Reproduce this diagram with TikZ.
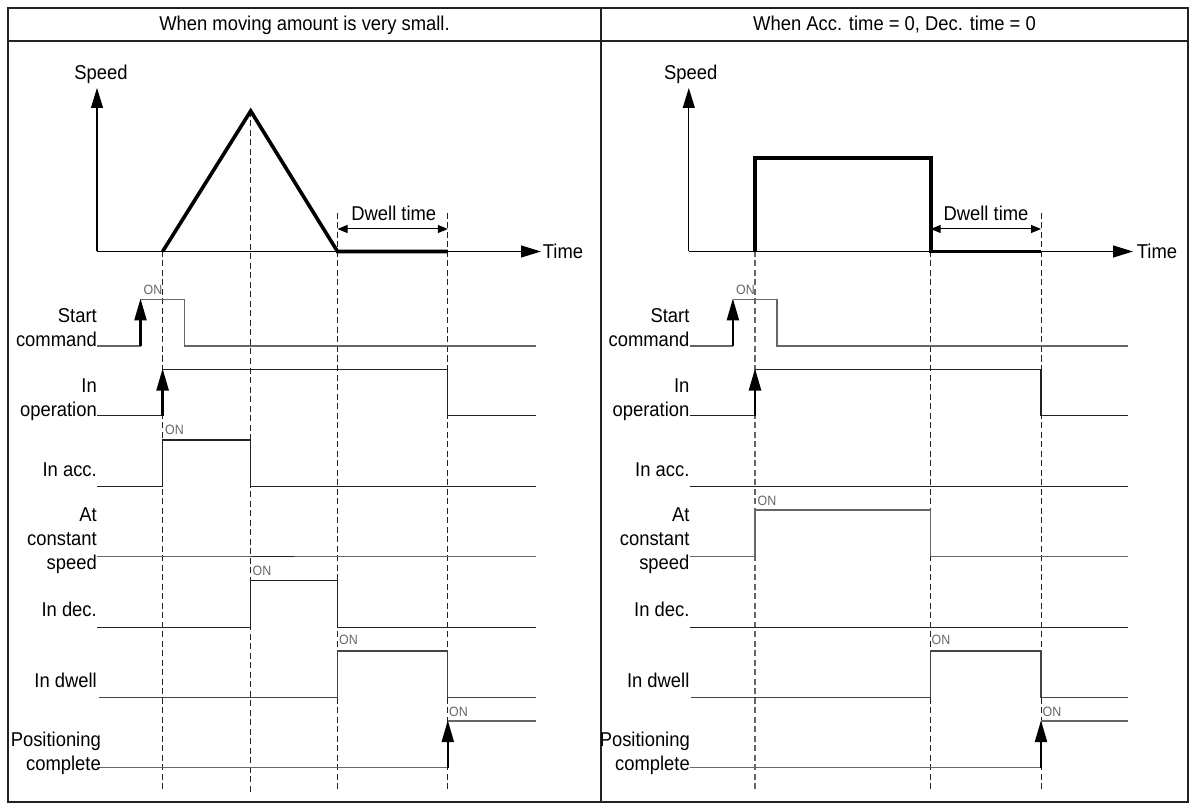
\documentclass[tikz,border=0pt]{standalone}
\usepackage{fontspec}
\setmainfont{Liberation Sans}[FakeStretch=0.92]
\usetikzlibrary{arrows.meta}
\definecolor{sgray}{HTML}{666666}
\definecolor{dk}{HTML}{222222}
\begin{document}
\begin{tikzpicture}[x=1pt,y=-1pt,
  lbl/.style={font=\fontsize{20}{24}\selectfont, inner sep=0pt, align=right, text depth=0pt, anchor=south east},
  ttl/.style={font=\fontsize{20}{24}\selectfont, inner sep=0pt},
  onlbl/.style={font=\fontsize{13.5}{15}\selectfont, text=black!60, inner sep=0pt},
  frame/.style={line width=1.2pt, draw=dk},
  sigb/.style={line width=1.2pt, draw=dk},
  sigg/.style={line width=1.2pt, draw=sgray},
  prof/.style={line width=3.6pt, draw=black},
  axis/.style={line width=1.1pt, draw=black, -{Triangle[length=20pt,width=12pt]}},
  uparr/.style={line width=2.4pt, draw=black, -{Triangle[length=22pt,width=12pt]}},
  dwarr/.style={line width=1pt, {Triangle[length=10pt,width=8pt]}-{Triangle[length=10pt,width=8pt]}},
  dsh/.style={line width=1pt, draw=dk, dash pattern=on 6pt off 3.5pt}]
\useasboundingbox (0,0) rectangle (1197,810);
\fill[white] (0,0) rectangle (1197,810);
% frame
\draw[frame] (8,8) rectangle (1188,802);
\draw[frame] (8,41) -- (1188,41);
\draw[frame] (601,8) -- (601,802);
\node[ttl] (t1) at (304.5,25) {When moving amount is very small.};
\node[ttl] (t2) at (894.5,25) {When Acc. time = 0, Dec. time = 0};

% ================= LEFT PANEL =================
% dashed guides
\draw[dsh] (162.6,251) -- (162.6,792);
\draw[dsh] (250.7,111) -- (250.7,792);
\draw[dsh] (337.5,213) -- (337.5,792);
\draw[dsh] (447.8,213) -- (447.8,792);
% axes
\draw[axis] (97,251.5) -- (97,88);
\draw[axis] (97,251.5) -- (541,251.5);
\node[ttl] (lspeed) at (101,74) {Speed};
\node[ttl] (ltime) at (563,251) {Time};
% profile
\draw[prof, line join=miter] (162.6,251.5) -- (250.7,111) -- (337.5,251.5) -- (447.8,251.5);
\draw[dwarr] (337.5,229) -- (447.8,229);
\node[ttl] (ldw) at (393.8,213) {Dwell time};
% signals
\draw[sigg] (97,346) -- (140.5,346);
\draw[uparr] (140.5,346) -- (140.5,298.5);
\draw[sigg] (140.5,299.3) -- (184.5,299.3) -- (184.5,346) -- (535.8,346);
\draw[sigb] (97,415.7) -- (162.6,415.7);
\draw[uparr] (162.6,415.7) -- (162.6,368.5);
\draw[sigb] (162.6,369.3) -- (447.8,369.3) -- (447.8,415.7) -- (535.8,415.7);
\draw[sigb] (97,486.7) -- (162.6,486.7) -- (162.6,440) -- (250.7,440) -- (250.7,486.7) -- (535.8,486.7);
\draw[sigg] (97,556.7) -- (535.8,556.7);
\draw[line width=1.4pt, draw=dk] (250.7,556.7) -- (294,556.7);
\draw[sigb] (97,627.3) -- (250.7,627.3) -- (250.7,580.7) -- (337.5,580.7) -- (337.5,627.3) -- (535.8,627.3);
\draw[sigb, draw=dk!85!white] (98.7,697.3) -- (337.5,697.3) -- (337.5,651) -- (447.8,651) -- (447.8,697.3) -- (535.8,697.3);
\draw[sigg] (97,767.7) -- (447.8,767.7);
\draw[uparr] (447.8,767.7) -- (447.8,720.2);
\draw[sigg] (447.8,721) -- (535.8,721);
% labels
\node[lbl] (ls1) at (97,347) {Start\\command};
\node[lbl] (ls2) at (97,416.5) {In\\operation};
\node[lbl] (ls3) at (97,477) {In acc.};
\node[lbl] (ls4) at (97,569.5) {At\\constant\\speed};
\node[lbl] (ls5) at (97,616.7) {In dec.};
\node[lbl] (ls6) at (97,687.5) {In dwell};
\node[lbl] (ls7) at (101,770.5) {Positioning\\complete};
% ON
\node[onlbl] (lo1) at (153,290) {ON};
\node[onlbl] (lo2) at (174.5,429.5) {ON};
\node[onlbl] (lo3) at (262,570.7) {ON};
\node[onlbl] (lo4) at (348.5,640) {ON};
\node[onlbl] (lo5) at (458.5,711.7) {ON};

% ================= RIGHT PANEL =================
\draw[dsh, draw=sgray, line width=1.3pt] (755,251) -- (755,792);
\draw[dsh] (930.7,251) -- (930.7,792);
\draw[dsh] (1041,213) -- (1041,792);
\draw[axis] (688.8,251.5) -- (688.8,88);
\draw[axis] (688.8,251.5) -- (1133,251.5);
\node[ttl] (rspeed) at (690.8,74) {Speed};
\node[ttl] (rtime) at (1157,251) {Time};
\draw[prof, line join=miter] (755,251.5) -- (755,158.3) -- (930.7,158.3) -- (930.7,251.5) -- (1041,251.5);
\draw[dwarr] (930.7,229) -- (1041,229);
\node[ttl] (rdw) at (986,213) {Dwell time};
% signals
\draw[sigg] (689.6,346) -- (732.9,346);
\draw[uparr] (732.9,346) -- (732.9,298.5);
\draw[sigg] (732.9,299.3) -- (776.9,299.3) -- (776.9,346) -- (1128.2,346);
\draw[sigb] (689.6,415.7) -- (755,415.7);
\draw[uparr] (755,415.7) -- (755,368.5);
\draw[sigb] (755,369.3) -- (1041,369.3) -- (1041,415.7) -- (1128.2,415.7);
\draw[sigb] (689.6,486.7) -- (1128.2,486.7);
\draw[sigg] (689.6,556.7) -- (755,556.7) -- (755,510) -- (930.7,510) -- (930.7,556.7) -- (1128.2,556.7);
\draw[sigb] (689.6,627.3) -- (1128.2,627.3);
\draw[sigb, draw=dk!85!white] (691,697.3) -- (930.7,697.3) -- (930.7,651) -- (1041,651) -- (1041,697.3) -- (1128.2,697.3);
\draw[sigg] (689.6,767.7) -- (1041,767.7);
\draw[uparr] (1041,767.7) -- (1041,720.2);
\draw[sigg] (1041,721) -- (1128.2,721);
% labels
\node[lbl] (rs1) at (689.6,347) {Start\\command};
\node[lbl] (rs2) at (689.6,416.5) {In\\operation};
\node[lbl] (rs3) at (689.6,477) {In acc.};
\node[lbl] (rs4) at (689.6,569.5) {At\\constant\\speed};
\node[lbl] (rs5) at (689.6,616.7) {In dec.};
\node[lbl] (rs6) at (689.6,687.5) {In dwell};
\node[lbl] (rs7) at (690,770.5) {Positioning\\complete};
% ON
\node[onlbl] (ro1) at (745.5,290) {ON};
\node[onlbl] (ro2) at (767,500.7) {ON};
\node[onlbl] (ro3) at (941,640) {ON};
\node[onlbl] (ro4) at (1052,711.7) {ON};
\end{tikzpicture}
\end{document}
